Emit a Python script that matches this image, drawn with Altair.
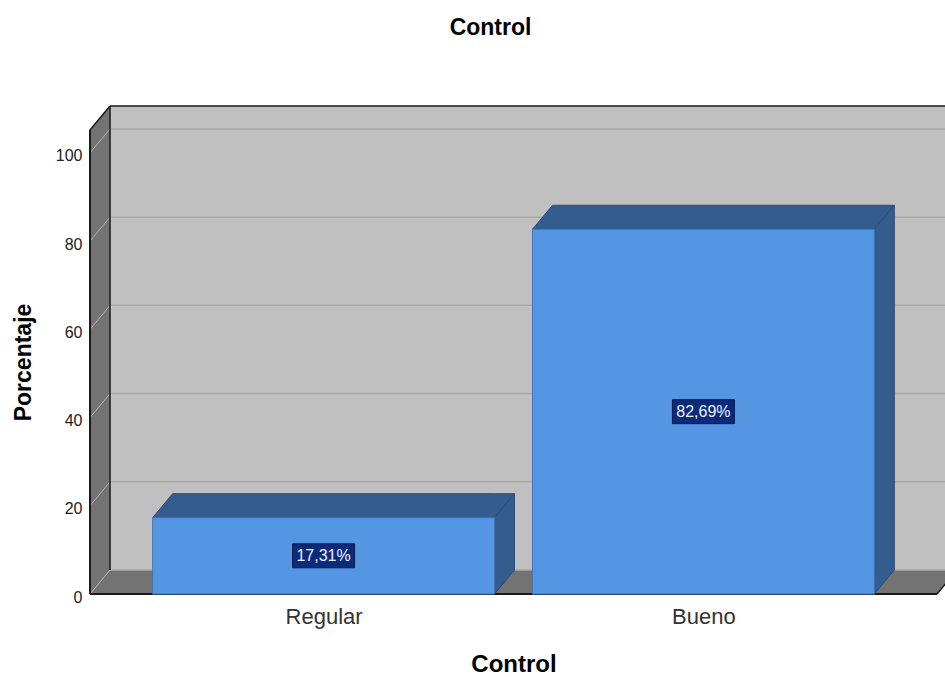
import json

import altair as alt
import pandas as pd

# ---- data -------------------------------------------------------------
categories = ["Regular", "Bueno"]
percentages = [17.31, 82.69]
y_ticks = [0, 20, 40, 60, 80, 100]

# ---- geometry / style -------------------------------------------------
FONT = "Liberation Sans"
PLOT_W, PLOT_H = 847, 464          # front face of the plot box
DEPTH_PX_X, DEPTH_PX_Y = 20, 24    # 3-D depth of walls and bars
X_MIN, X_MAX = -0.615, 1.615       # category slots 0 and 1
Y_MAX = 105.2
BAR_HALF = 0.45

WALL = "#c0c0c0"
SIDE_WALL = "#737373"
GRID_BACK = "#a9a9a9"
GRID_SIDE = "#b2b2b2"
BAR_FRONT = "#5596e3"
BAR_DEPTH = "#345c8d"
LABEL_BOX = "#0c2a7c"

# depth expressed in data units of each scale
dxu = DEPTH_PX_X / PLOT_W * (X_MAX - X_MIN)
dyu = DEPTH_PX_Y / PLOT_H * Y_MAX

xs = alt.Scale(domain=[X_MIN, X_MAX], nice=False, zero=False)
ys = alt.Scale(domain=[0, Y_MAX], nice=False, zero=False)

# one shared axis definition per channel, used by every layer
x_axis = alt.Axis(
    values=[0, 1],
    labelExpr=f"{json.dumps(categories)}[datum.value]",
    title="Control", titleFont=FONT, titleFontSize=24, titleFontWeight="bold",
    titleColor="#000000", titlePadding=25,
    labelFont=FONT, labelFontSize=22, labelColor="#333333", labelPadding=12,
    ticks=False, tickSize=0, domain=False, grid=False, labelFlush=False,
)
y_axis = alt.Axis(
    values=y_ticks, format="d",
    title="Porcentaje", titleFont=FONT, titleFontSize=23,
    titleFontWeight="bold", titleColor="#000000", titlePadding=20,
    labelFont=FONT, labelFontSize=16, labelColor="#222222", labelPadding=8,
    labelOffset=3, ticks=False, tickSize=0, domain=False, grid=False,
)


def X(field):
    return alt.X(f"{field}:Q", scale=xs, axis=x_axis)


def Y(field):
    return alt.Y(f"{field}:Q", scale=ys, axis=y_axis)


# ---- box: back wall, floor, left wall ---------------------------------
back_wall = alt.Chart(pd.DataFrame({
    "x": [X_MIN + dxu], "x2": [X_MAX + dxu], "y": [dyu], "y2": [Y_MAX + dyu]
})).mark_rect(fill=WALL).encode(
    x=X("x"), x2="x2", y=Y("y"), y2="y2"
)

floor = alt.Chart(pd.DataFrame({
    "x": [X_MIN, X_MIN + dxu, X_MAX, X_MAX + dxu],
    "y": [0, 0, 0, dyu],
    "y2": [0, dyu, dyu, dyu],
})).mark_area(fill=SIDE_WALL, orient="vertical").encode(
    x=X("x"), y=Y("y"), y2="y2"
)

left_wall = alt.Chart(pd.DataFrame({
    "x": [X_MIN, X_MIN + dxu],
    "y": [0, dyu],
    "y2": [Y_MAX, Y_MAX + dyu],
})).mark_area(fill=SIDE_WALL, orient="vertical").encode(
    x=X("x"), y=Y("y"), y2="y2"
)

grid_back = alt.Chart(pd.DataFrame({
    "y": [t + dyu for t in y_ticks],
    "x": X_MIN + dxu,
    "x2": X_MAX + dxu,
})).mark_rule(color=GRID_BACK, strokeWidth=1.5).encode(
    x=X("x"), x2="x2", y=Y("y")
)

side_rows = []
for t in y_ticks:
    side_rows.append({"tick": t, "x": X_MIN, "y": t})
    side_rows.append({"tick": t, "x": X_MIN + dxu, "y": t + dyu})
grid_side = alt.Chart(pd.DataFrame(side_rows)).mark_line(
    color=GRID_SIDE, strokeWidth=1
).encode(x=X("x"), y=Y("y"), detail="tick:N")

# dark outline of the box
edges = [
    ("front_floor", [(X_MIN, 0), (X_MAX, 0)], 2),
    ("floor_right", [(X_MAX, 0), (X_MAX + dxu, dyu)], 1.5),
    ("left_front", [(X_MIN, 0), (X_MIN, Y_MAX)], 2),
    ("left_top", [(X_MIN, Y_MAX), (X_MIN + dxu, Y_MAX + dyu)], 1.5),
    ("back_top", [(X_MIN + dxu, Y_MAX + dyu), (X_MAX + dxu, Y_MAX + dyu)], 1.5),
    ("back_left", [(X_MIN + dxu, dyu), (X_MIN + dxu, Y_MAX + dyu)], 1.5),
]
edge_layers = []
for name, pts, w in edges:
    df = pd.DataFrame({"x": [p[0] for p in pts], "y": [p[1] for p in pts],
                       "o": [0, 1]})
    edge_layers.append(
        alt.Chart(df).mark_line(color="#1a1a1a", strokeWidth=w).encode(
            x=X("x"), y=Y("y"), order="o:Q"
        )
    )

# ---- bars -------------------------------------------------------------
bars = pd.DataFrame({
    "cat": categories,
    "idx": list(range(len(categories))),
    "value": percentages,
})
bars["x0"] = bars["idx"] - BAR_HALF
bars["x1"] = bars["idx"] + BAR_HALF
bars["base"] = 0.0
bars["mid"] = bars["value"] / 2
bars["label"] = [f"{v:.2f}".replace(".", ",") + "%" for v in percentages]

top_rows, side_rows = [], []
for _, r in bars.iterrows():
    v, a, b = r["value"], r["x0"], r["x1"]
    for x, lo, hi in [(a, v, v), (a + dxu, v, v + dyu),
                      (b, v, v + dyu), (b + dxu, v + dyu, v + dyu)]:
        top_rows.append({"cat": r["cat"], "x": x, "y": lo, "y2": hi})
    for x, lo, hi in [(b, 0, v), (b + dxu, dyu, v + dyu)]:
        side_rows.append({"cat": r["cat"], "x": x, "y": lo, "y2": hi})

bar_top = alt.Chart(pd.DataFrame(top_rows)).mark_area(
    fill=BAR_DEPTH, stroke="#2b4d78", strokeWidth=1, orient="vertical"
).encode(x=X("x"), y=Y("y"), y2="y2", detail="cat:N")

bar_side = alt.Chart(pd.DataFrame(side_rows)).mark_area(
    fill=BAR_DEPTH, stroke="#2b4d78", strokeWidth=1, orient="vertical"
).encode(x=X("x"), y=Y("y"), y2="y2", detail="cat:N")

bar_front = alt.Chart(bars).mark_rect(
    fill=BAR_FRONT, stroke="#3f74b8", strokeWidth=1
).encode(x=X("x0"), x2="x1", y=Y("base"), y2="value")

label_box = alt.Chart(bars).mark_rect(
    fill=LABEL_BOX, stroke="#0a1a4a", strokeWidth=1,
    xOffset=-31, x2Offset=31, yOffset=-12, y2Offset=12,
).encode(x=X("idx"), x2="idx", y=Y("mid"), y2="mid")

label_text = alt.Chart(bars).mark_text(
    font=FONT, fontSize=16, color="#eef0ff", baseline="middle", align="center"
).encode(x=X("idx"), y=Y("mid"), text="label:N")

chart = alt.layer(
    back_wall, floor, left_wall, grid_back, grid_side, *edge_layers,
    bar_top, bar_side, bar_front, label_box, label_text,
).properties(
    width=PLOT_W,
    height=PLOT_H,
    title=alt.TitleParams(
        "Control", font=FONT, fontSize=23, fontWeight="bold", color="#000000",
        anchor="middle", frame="group", dx=-23, offset=63,
    ),
    autosize=alt.AutoSizeParams(type="none"),
    padding={"left": 90, "top": 130, "right": 8, "bottom": 83},
).configure_view(stroke=None).configure(background="white")

chart.save("out.html", embed_options={"renderer": "svg", "actions": False})
